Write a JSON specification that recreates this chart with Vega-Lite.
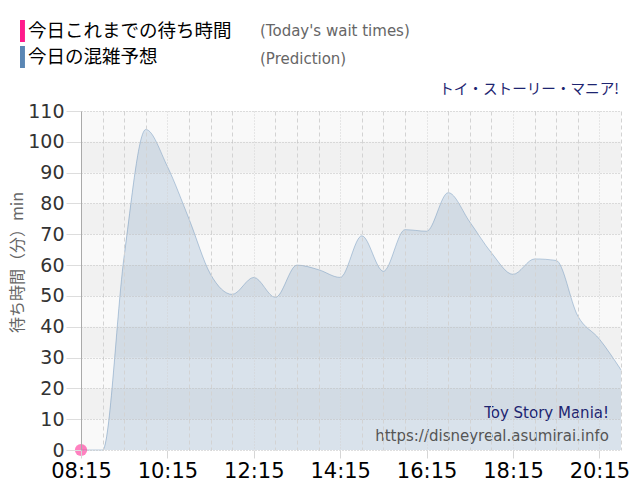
{
  "$schema": "https://vega.github.io/schema/vega-lite/v6.json",
  "width": 540,
  "height": 339,
  "autosize": "none",
  "padding": {"left": 81, "top": 111, "right": 19, "bottom": 50},
  "background": "white",
  "config": {"view": {"fill": "#f9f9f9", "stroke": null}, "font": "DejaVu Sans"},
  "datasets": {
    "pred": [
      {"time": "2024-01-01T08:15", "wait": 0, "series": "今日の混雑予想"},
      {"time": "2024-01-01T08:45", "wait": 0, "series": "今日の混雑予想"},
      {"time": "2024-01-01T09:15", "wait": 63, "series": "今日の混雑予想"},
      {"time": "2024-01-01T09:45", "wait": 104, "series": "今日の混雑予想"},
      {"time": "2024-01-01T10:15", "wait": 92, "series": "今日の混雑予想"},
      {"time": "2024-01-01T10:45", "wait": 75, "series": "今日の混雑予想"},
      {"time": "2024-01-01T11:15", "wait": 57, "series": "今日の混雑予想"},
      {"time": "2024-01-01T11:45", "wait": 50.5, "series": "今日の混雑予想"},
      {"time": "2024-01-01T12:15", "wait": 56, "series": "今日の混雑予想"},
      {"time": "2024-01-01T12:45", "wait": 49.5, "series": "今日の混雑予想"},
      {"time": "2024-01-01T13:15", "wait": 60, "series": "今日の混雑予想"},
      {"time": "2024-01-01T13:45", "wait": 58.5, "series": "今日の混雑予想"},
      {"time": "2024-01-01T14:15", "wait": 56, "series": "今日の混雑予想"},
      {"time": "2024-01-01T14:45", "wait": 69.5, "series": "今日の混雑予想"},
      {"time": "2024-01-01T15:15", "wait": 58, "series": "今日の混雑予想"},
      {"time": "2024-01-01T15:45", "wait": 71.5, "series": "今日の混雑予想"},
      {"time": "2024-01-01T16:15", "wait": 71, "series": "今日の混雑予想"},
      {"time": "2024-01-01T16:45", "wait": 83.5, "series": "今日の混雑予想"},
      {"time": "2024-01-01T17:15", "wait": 74, "series": "今日の混雑予想"},
      {"time": "2024-01-01T17:45", "wait": 64, "series": "今日の混雑予想"},
      {"time": "2024-01-01T18:15", "wait": 57, "series": "今日の混雑予想"},
      {"time": "2024-01-01T18:45", "wait": 62, "series": "今日の混雑予想"},
      {"time": "2024-01-01T19:15", "wait": 61.5, "series": "今日の混雑予想"},
      {"time": "2024-01-01T19:45", "wait": 43.5, "series": "今日の混雑予想"},
      {"time": "2024-01-01T20:15", "wait": 36, "series": "今日の混雑予想"},
      {"time": "2024-01-01T20:45", "wait": 26, "series": "今日の混雑予想"}
    ],
    "actual": [
      {"time": "2024-01-01T08:15", "wait": 0, "series": "今日これまでの待ち時間"}
    ],
    "bands": [
      {"lo": 10, "hi": 20},
      {"lo": 30, "hi": 40},
      {"lo": 50, "hi": 60},
      {"lo": 70, "hi": 80},
      {"lo": 90, "hi": 100}
    ]
  },
  "layer": [
    {
      "data": {"name": "bands"},
      "mark": {"type": "rect", "color": "#f1f1f1"},
      "encoding": {
        "x": {"value": 0},
        "x2": {"value": "width"},
        "y": {"field": "lo", "type": "quantitative", "title": "待ち時間（分）min", "scale": {"domain": [0, 110]}},
        "y2": {"field": "hi"}
      }
    },
    {
      "data": {"name": "pred"},
      "mark": {"type": "area", "interpolate": "monotone", "fillOpacity": 0.2, "line": {"strokeWidth": 1, "opacity": 0.4}},
      "encoding": {
        "x": {
          "field": "time", "type": "temporal",
          "scale": {"domain": [{"year": 2024, "month": 1, "date": 1, "hours": 8, "minutes": 15}, {"year": 2024, "month": 1, "date": 1, "hours": 20, "minutes": 45}]},
          "axis": {
            "title": null,
            "values": [
              {"year": 2024, "month": 1, "date": 1, "hours": 8, "minutes": 15},
              {"year": 2024, "month": 1, "date": 1, "hours": 8, "minutes": 45},
              {"year": 2024, "month": 1, "date": 1, "hours": 9, "minutes": 15},
              {"year": 2024, "month": 1, "date": 1, "hours": 9, "minutes": 45},
              {"year": 2024, "month": 1, "date": 1, "hours": 10, "minutes": 15},
              {"year": 2024, "month": 1, "date": 1, "hours": 10, "minutes": 45},
              {"year": 2024, "month": 1, "date": 1, "hours": 11, "minutes": 15},
              {"year": 2024, "month": 1, "date": 1, "hours": 11, "minutes": 45},
              {"year": 2024, "month": 1, "date": 1, "hours": 12, "minutes": 15},
              {"year": 2024, "month": 1, "date": 1, "hours": 12, "minutes": 45},
              {"year": 2024, "month": 1, "date": 1, "hours": 13, "minutes": 15},
              {"year": 2024, "month": 1, "date": 1, "hours": 13, "minutes": 45},
              {"year": 2024, "month": 1, "date": 1, "hours": 14, "minutes": 15},
              {"year": 2024, "month": 1, "date": 1, "hours": 14, "minutes": 45},
              {"year": 2024, "month": 1, "date": 1, "hours": 15, "minutes": 15},
              {"year": 2024, "month": 1, "date": 1, "hours": 15, "minutes": 45},
              {"year": 2024, "month": 1, "date": 1, "hours": 16, "minutes": 15},
              {"year": 2024, "month": 1, "date": 1, "hours": 16, "minutes": 45},
              {"year": 2024, "month": 1, "date": 1, "hours": 17, "minutes": 15},
              {"year": 2024, "month": 1, "date": 1, "hours": 17, "minutes": 45},
              {"year": 2024, "month": 1, "date": 1, "hours": 18, "minutes": 15},
              {"year": 2024, "month": 1, "date": 1, "hours": 18, "minutes": 45},
              {"year": 2024, "month": 1, "date": 1, "hours": 19, "minutes": 15},
              {"year": 2024, "month": 1, "date": 1, "hours": 19, "minutes": 45},
              {"year": 2024, "month": 1, "date": 1, "hours": 20, "minutes": 15},
              {"year": 2024, "month": 1, "date": 1, "hours": 20, "minutes": 45}
            ],
            "tickCount": 40,
            "format": "%H:%M",
            "labelExpr": "((hours(datum.value)*60 + minutes(datum.value)) % 120 == 15) ? timeFormat(datum.value, '%H:%M') : ''",
            "labelFlush": false,
            "labelOverlap": false,
            "labelFontSize": 21,
            "labelColor": "#000000",
            "labelPadding": 2,
            "domain": false,
            "tickSize": 8,
            "tickColor": {"condition": {"test": "(hours(datum.value)*60 + minutes(datum.value)) % 120 == 15", "value": "#d6d6d6"}, "value": "transparent"},
            "grid": true,
            "gridColor": "#d3d3d3",
            "gridDash": {"condition": {"test": "(hours(datum.value)*60 + minutes(datum.value)) % 120 == 15", "value": [1, 2]}, "value": [4, 3]},
            "zindex": 1
          }
        },
        "y": {
          "field": "wait", "type": "quantitative",
          "title": "待ち時間（分）min",
          "scale": {"domain": [0, 110]},
          "axis": {
            "values": [0, 10, 20, 30, 40, 50, 60, 70, 80, 90, 100, 110],
            "tickCount": 20,
            "title": "待ち時間（分）min",
            "titleFont": "Noto Sans CJK JP",
            "titleFontSize": 16,
            "titleFontWeight": "normal",
            "titleColor": "#666666",
            "titleAngle": -90,
            "titleX": -64,
            "titleY": 151,
            "titleAlign": "center",
            "titleBaseline": "middle",
            "labelFontSize": 19,
            "labelColor": "#333333",
            "labelPadding": 2,
            "tickSize": 15,
            "tickColor": "#dddddd",
            "domainColor": "#aaaaaa",
            "grid": true,
            "gridColor": "#bfbfbf",
            "gridDash": [1, 2],
            "zindex": 1
          }
        },
        "color": {
          "field": "series", "type": "nominal",
          "scale": {"domain": ["今日これまでの待ち時間", "今日の混雑予想"], "range": ["#ff1a8c", "#5a86b4"]},
          "legend": {
            "orient": "none",
            "legendX": -61,
            "legendY": -91,
            "title": null,
            "padding": 0,
            "symbolType": "M-1,-1H-0.55V1H-1Z",
            "symbolSize": 484,
            "symbolOpacity": 1,
            "symbolStrokeWidth": 0,
            "labelFont": "Noto Sans CJK JP",
            "labelFontSize": 18.5,
            "labelColor": "#000000",
            "labelOffset": -14,
            "labelLimit": 400,
            "rowPadding": 4,
            "encode": {"symbols": {"update": {"fillOpacity": {"value": 1}, "opacity": {"value": 1}, "strokeWidth": {"value": 0}}}}
          }
        }
      }
    },
    {
      "data": {"name": "actual"},
      "mark": {"type": "point", "filled": true, "size": 150, "opacity": 0.55},
      "encoding": {
        "x": {"field": "time", "type": "temporal"},
        "y": {"field": "wait", "type": "quantitative"},
        "color": {"field": "series", "type": "nominal"}
      }
    },
    {
      "data": {"values": [{}]},
      "mark": {"type": "text", "text": "(Today's wait times)", "align": "left", "baseline": "middle", "fontSize": 15, "color": "#666666"},
      "encoding": {"x": {"value": 179}, "y": {"value": -80}}
    },
    {
      "data": {"values": [{}]},
      "mark": {"type": "text", "text": "(Prediction)", "align": "left", "baseline": "middle", "fontSize": 15, "color": "#666666"},
      "encoding": {"x": {"value": 179}, "y": {"value": -52}}
    },
    {
      "data": {"values": [{}]},
      "mark": {"type": "text", "text": "トイ・ストーリー・マニア!", "align": "right", "baseline": "middle", "font": "Noto Sans CJK JP", "fontSize": 14.6, "color": "#1d2470"},
      "encoding": {"x": {"value": 538}, "y": {"value": -21}}
    },
    {
      "data": {"values": [{}]},
      "mark": {"type": "text", "text": "Toy Story Mania!", "align": "right", "baseline": "middle", "fontSize": 15, "color": "#1d2470"},
      "encoding": {"x": {"value": 528}, "y": {"value": 302}}
    },
    {
      "data": {"values": [{}]},
      "mark": {"type": "text", "text": "https://disneyreal.asumirai.info", "align": "right", "baseline": "middle", "fontSize": 15, "color": "#555555"},
      "encoding": {"x": {"value": 528}, "y": {"value": 325}}
    }
  ]
}
